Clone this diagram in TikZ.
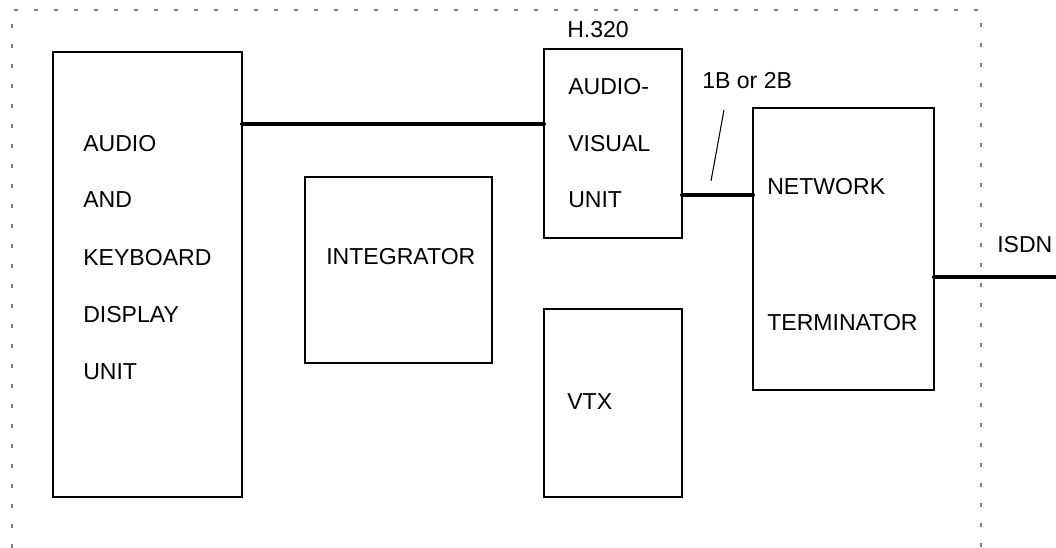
\documentclass[tikz,border=0pt]{standalone}
\usepackage{fontspec}
\setmainfont{Liberation Sans}
\begin{document}
\begin{tikzpicture}[x=0.75pt,y=-0.75pt,
  box/.style={draw=black,line width=1.1pt,rectangle,inner sep=0pt,outer sep=0pt},
  lbl/.style={anchor=west,inner sep=0pt,font=\fontsize{17.3}{20}\selectfont},
  clbl/.style={anchor=center,inner sep=0pt,font=\fontsize{17.3}{20}\selectfont},
  thickline/.style={line width=3pt,line cap=round},
  thinline/.style={line width=0.8pt},
  border/.style={draw=gray,line width=0.9pt,dash pattern=on 3pt off 12pt}]
\useasboundingbox (0,0) rectangle (1056,548);
% dotted frame
\coordinate (fbl) at (12,548);
\coordinate (ftl) at (12,10);
\coordinate (ftr) at (981,10);
\coordinate (fbr) at (981,548);
\draw[border] (fbl) -- (ftl) -- (ftr) -- (fbr);
% boxes
\node[box,minimum width=141.75pt,minimum height=333.75pt] (kdu) at (147.5,274.5) {};
\node[box,minimum width=103.5pt,minimum height=141.75pt] (av) at (613,143.5) {};
\node[box,minimum width=135.75pt,minimum height=211.5pt] (nt) at (843.5,249) {};
\node[box,minimum width=140.25pt,minimum height=139.5pt] (int) at (398.5,270) {};
\node[box,minimum width=103.5pt,minimum height=141pt] (vtx) at (613,403) {};
% texts
\node[lbl] (t1) at (83,143.5) {AUDIO};
\node[lbl] (t2) at (83,200) {AND};
\node[lbl] (t3) at (83,258) {KEYBOARD};
\node[lbl] (t4) at (83,315) {DISPLAY};
\node[lbl] (t5) at (83,372) {UNIT};
\node[lbl] (h320) at (567,30) {H.320};
\node[lbl] (a1) at (568,87) {AUDIO-};
\node[lbl] (a2) at (568,144) {VISUAL};
\node[lbl] (a3) at (568,200) {UNIT};
\node[lbl] (bb) at (702,81) {1B or 2B};
\node[lbl] (i1) at (326,257) {INTEGRATOR};
\node[lbl] (n1) at (767,187) {NETWORK};
\node[lbl] (n2) at (767,323) {TERMINATOR};
\node[lbl] (vt) at (567,402) {VTX};
\node[lbl] (isdn) at (997,244.5) {ISDN};
% connectors
\draw[thickline] (kdu.east |- 0,124) -- (av.west |- 0,124);
\draw[thickline] (av.east |- 0,195) -- (nt.west |- 0,195);
\coordinate (isdnend) at (1056,277);
\draw[thickline] (nt.east |- isdnend) -- (isdnend);
\coordinate (s1) at (724,110);
\coordinate (s2) at (711,181);
\draw[thinline] (s1) -- (s2);
\end{tikzpicture}
\end{document}
